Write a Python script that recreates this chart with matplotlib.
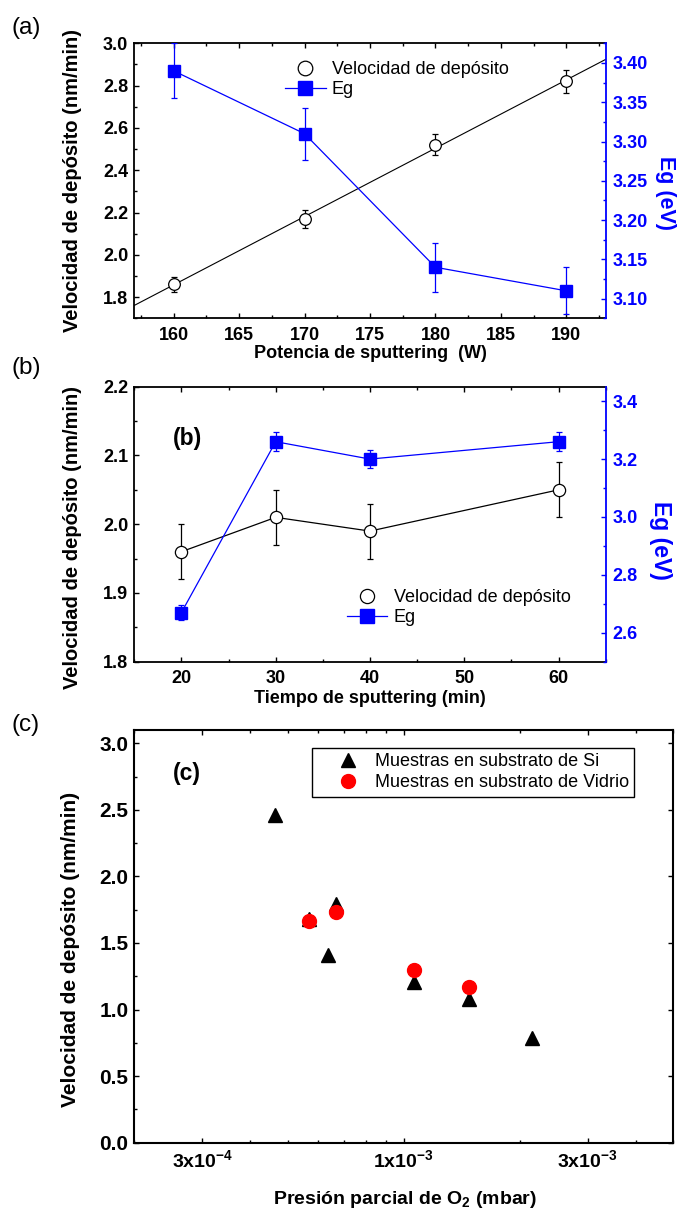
import matplotlib
matplotlib.use('Agg')
import matplotlib.pyplot as plt
from matplotlib.lines import Line2D
from matplotlib.ticker import MultipleLocator, FixedLocator, FormatStrFormatter, NullFormatter
import numpy as np

plt.rcParams['font.family'] = ['Liberation Sans', 'DejaVu Sans']
plt.rcParams['font.weight'] = 'bold'
plt.rcParams['axes.labelweight'] = 'bold'
plt.rcParams['mathtext.fontset'] = 'custom'
plt.rcParams['mathtext.default'] = 'bf'
plt.rcParams['mathtext.bf'] = 'Liberation Sans:bold'
plt.rcParams['mathtext.rm'] = 'Liberation Sans:bold'

BLUE = '#0000ff'
RED = '#ff0000'

# (a) potencia de sputtering
potencia = [160, 170, 180, 190]
vel_a = [1.86, 2.17, 2.52, 2.82]
vel_a_err = [0.037, 0.043, 0.05, 0.055]
eg_a = [3.39, 3.31, 3.14, 3.11]
eg_a_err = [0.035, 0.033, 0.031, 0.03]

# (b) tiempo de sputtering
tiempo = [20, 30, 40, 60]
vel_b = [1.96, 2.01, 1.99, 2.05]
vel_b_err = [0.04, 0.04, 0.04, 0.04]
eg_b = [2.67, 3.26, 3.20, 3.26]
eg_b_err = [0.025, 0.033, 0.031, 0.033]

# (c) presion parcial de O2
p_si = [4.63e-4, 5.69e-4, 6.68e-4, 6.37e-4, 1.062e-3, 1.48e-3, 2.15e-3]
vel_si = [2.46, 1.68, 1.79, 1.41, 1.21, 1.08, 0.79]
p_vidrio = [5.69e-4, 6.68e-4, 1.062e-3, 1.48e-3]
vel_vidrio = [1.665, 1.73, 1.30, 1.17]

legend_font = {'family': 'Liberation Sans', 'weight': 'normal', 'size': 13}


def style_axes(ax, lw=1.3, size=13):
    for sp in ax.spines.values():
        sp.set_linewidth(lw)
    ax.tick_params(which='both', direction='in', top=True, width=1, labelsize=size)
    ax.tick_params(which='major', length=3.6)
    ax.tick_params(which='minor', length=2.2)
    ax.tick_params(axis='x', pad=6)
    ax.tick_params(axis='y', pad=4.3)


def style_twin(ax2, size=13):
    for side in ['left', 'top', 'bottom']:
        ax2.spines[side].set_visible(False)
    ax2.spines['right'].set_color(BLUE)
    ax2.spines['right'].set_linewidth(1.3)
    ax2.tick_params(axis='y', which='both', direction='in', colors=BLUE,
                    width=1, labelsize=size, pad=5)
    ax2.tick_params(axis='y', which='major', length=3.6)
    ax2.tick_params(axis='y', which='minor', length=2.2)


fig = plt.figure(figsize=(6.83, 12.16), dpi=100)

# ---------------- (a)
axa = fig.add_axes([0.1966, 0.7382, 0.6902, 0.2262])
axa.errorbar(potencia, vel_a, yerr=vel_a_err, fmt='o', mfc='white', mec='black',
             ms=8.4, mew=0.9, ecolor='black', elinewidth=0.9, capsize=2.5,
             capthick=0.9, zorder=3)
fit = np.polyfit(potencia, vel_a, 1)
xs = np.array([157, 193])
axa.plot(xs, np.polyval(fit, xs), color='black', lw=0.8, zorder=2)
axa.set_xlim(157, 193)
axa.set_ylim(1.70, 3.0)
axa.xaxis.set_major_locator(MultipleLocator(5))
axa.xaxis.set_minor_locator(MultipleLocator(2.5))
axa.yaxis.set_major_locator(MultipleLocator(0.2))
axa.yaxis.set_minor_locator(MultipleLocator(0.1))
axa.yaxis.set_major_formatter(FormatStrFormatter('%.1f'))

ax2a = axa.twinx()
ax2a.errorbar(potencia, eg_a, yerr=eg_a_err, fmt='s-', color=BLUE, ms=8.9, lw=0.9,
              elinewidth=0.9, capsize=2.5, capthick=0.9)
ax2a.set_ylim(3.075, 3.425)
ax2a.yaxis.set_major_locator(MultipleLocator(0.05))
ax2a.yaxis.set_minor_locator(MultipleLocator(0.025))
ax2a.yaxis.set_major_formatter(FormatStrFormatter('%.2f'))
axa.spines['right'].set_visible(False)
style_axes(axa)
axa.tick_params(right=False)
style_twin(ax2a)

axa.set_xlabel('Potencia de sputtering  (W)', fontsize=13)
axa.xaxis.set_label_coords(0.5, -0.096)
axa.set_ylabel('Velocidad de depósito (nm/min)', fontsize=14.5)
axa.yaxis.set_label_coords(-0.111, 0.5)
ax2a.set_ylabel('Eg (eV)', fontsize=15.5, color=BLUE, rotation=270, va='bottom')
ax2a.yaxis.set_label_coords(1.105, 0.455)

h_vel = Line2D([], [], ls='none', marker='o', mfc='white', mec='black', ms=10.5, mew=0.9)
h_eg = Line2D([], [], color=BLUE, lw=0.9, marker='s', ms=10.5)
ax2a.legend([h_vel, h_eg], ['Velocidad de depósito', 'Eg'], prop=legend_font,
            frameon=False, loc='upper left', bbox_to_anchor=(0.3197, 0.9356),
            borderpad=0, borderaxespad=0, handlelength=2.25, handletextpad=0.35,
            labelspacing=0.17)

# ---------------- (b)
axb = fig.add_axes([0.1966, 0.4558, 0.6902, 0.2262])
axb.errorbar(tiempo, vel_b, yerr=vel_b_err, fmt='o-', color='black', mfc='white',
             mec='black', ms=8.8, mew=0.9, lw=0.9, elinewidth=0.9, capsize=2.5,
             capthick=0.9)
axb.set_xlim(15, 65)
axb.set_ylim(1.8, 2.2)
axb.xaxis.set_major_locator(MultipleLocator(10))
axb.xaxis.set_minor_locator(MultipleLocator(5))
axb.yaxis.set_major_locator(MultipleLocator(0.1))
axb.yaxis.set_minor_locator(MultipleLocator(0.05))
axb.yaxis.set_major_formatter(FormatStrFormatter('%.1f'))

ax2b = axb.twinx()
ax2b.errorbar(tiempo, eg_b, yerr=eg_b_err, fmt='s-', color=BLUE, ms=8.0, lw=0.9,
              elinewidth=0.9, capsize=2.5, capthick=0.9)
ax2b.set_ylim(2.5, 3.45)
ax2b.yaxis.set_major_locator(MultipleLocator(0.2))
ax2b.yaxis.set_minor_locator(MultipleLocator(0.1))
ax2b.yaxis.set_major_formatter(FormatStrFormatter('%.1f'))
axb.spines['right'].set_visible(False)
style_axes(axb)
axb.tick_params(right=False)
style_twin(ax2b)

axb.set_xlabel('Tiempo de sputtering (min)', fontsize=13)
axb.xaxis.set_label_coords(0.5, -0.103)
axb.set_ylabel('Velocidad de depósito (nm/min)', fontsize=14.5)
axb.yaxis.set_label_coords(-0.111, 0.45)
ax2b.set_ylabel('Eg (eV)', fontsize=16.5, color=BLUE, rotation=270, va='bottom')
ax2b.yaxis.set_label_coords(1.092, 0.4425)
axb.text(0.0815, 0.8105, '(b)', transform=axb.transAxes, fontsize=16.5,
         ha='left', va='center')

h_vel = Line2D([], [], ls='none', marker='o', mfc='white', mec='black', ms=10.2, mew=0.9)
h_eg = Line2D([], [], color=BLUE, lw=0.9, marker='s', ms=10.2)
ax2b.legend([h_vel, h_eg], ['Velocidad de depósito', 'Eg'], prop=legend_font,
            frameon=False, loc='upper left', bbox_to_anchor=(0.4506, 0.2636),
            borderpad=0, borderaxespad=0, handlelength=2.25, handletextpad=0.35,
            labelspacing=0.17)

# ---------------- (c)
axc = fig.add_axes([0.1966, 0.0603, 0.7892, 0.3394])
axc.plot(p_si, vel_si, ls='none', marker='^', color='black', ms=10,
         label='Muestras en substrato de Si')
axc.plot(p_vidrio, vel_vidrio, ls='none', marker='o', color=RED, ms=10,
         label='Muestras en substrato de Vidrio')
axc.set_xscale('log')
axc.set_xlim(2e-4, 5e-3)
axc.set_ylim(0, 3.1)
axc.xaxis.set_major_locator(FixedLocator([3e-4, 1e-3, 3e-3]))
axc.xaxis.set_major_formatter(matplotlib.ticker.FixedFormatter(
    ['3x10$^{-4}$', '1x10$^{-3}$', '3x10$^{-3}$']))
axc.xaxis.set_minor_locator(FixedLocator([2e-4, 4e-4, 5e-4, 6e-4, 7e-4, 8e-4, 9e-4,
                                          2e-3, 4e-3, 5e-3]))
axc.xaxis.set_minor_formatter(NullFormatter())
axc.yaxis.set_major_locator(MultipleLocator(0.5))
axc.yaxis.set_minor_locator(MultipleLocator(0.25))
axc.yaxis.set_major_formatter(FormatStrFormatter('%.1f'))
style_axes(axc, lw=1.5, size=15)
axc.tick_params(right=True)
axc.tick_params(axis='x', labelsize=14, pad=5)

axc.set_xlabel('Presión parcial de O$_2$ (mbar)', fontsize=14)
axc.xaxis.set_label_coords(0.502, -0.1134)
axc.set_ylabel('Velocidad de depósito (nm/min)', fontsize=15)
axc.yaxis.set_label_coords(-0.0998, 0.469)
axc.text(0.0712, 0.894, '(c)', transform=axc.transAxes, fontsize=16.5,
         ha='left', va='center')

leg = axc.legend(prop=legend_font, loc='upper left', bbox_to_anchor=(0.3291, 0.9571),
                 borderpad=0.3, borderaxespad=0, handlelength=3.42,
                 handletextpad=-0.22, labelspacing=0.24, fancybox=False,
                 framealpha=1, edgecolor='black')
leg.get_frame().set_linewidth(1.0)

# panel letters
for lab, y in [('(a)', 28), ('(b)', 368), ('(c)', 724.5)]:
    fig.text(11.5 / 683, 1 - y / 1216, lab, fontsize=17.5, fontweight='normal',
             ha='left', va='center')

fig.savefig('out.png', dpi=100)
